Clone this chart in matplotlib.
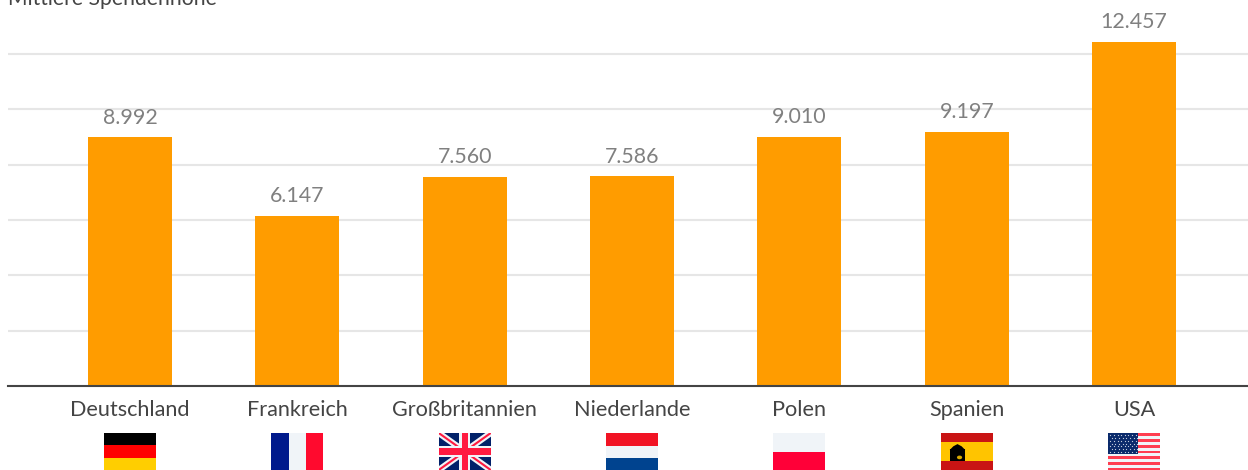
import matplotlib
matplotlib.use("Agg")
import matplotlib.pyplot as plt
from matplotlib.patches import Rectangle, Circle, Polygon

plt.rcParams["font.family"] = ["Lato", "DejaVu Sans"]

countries = ["Deutschland", "Frankreich", "Großbritannien", "Niederlande", "Polen", "Spanien", "USA"]
values = [8992, 6147, 7560, 7586, 9010, 9197, 12457]
value_labels = ["8.992", "6.147", "7.560", "7.586", "9.010", "9.197", "12.457"]
grid_ticks = [2000, 4000, 6000, 8000, 10000, 12000]
flag_codes = ["de", "fr", "gb", "nl", "pl", "es", "us"]

W, H = 1248, 470
ORANGE = "#ff9c00"
WHITE = "#f0f4f8"


def stripes(ax, colors, horizontal=True, sizes=None):
    # simple tricolours, coordinates in a 0-1 box with y pointing down
    sizes = sizes or [1 / len(colors)] * len(colors)
    pos = 0
    for c, s in zip(colors, sizes):
        if horizontal:
            ax.add_patch(Rectangle((0, pos), 1, s, color=c, lw=0))
        else:
            ax.add_patch(Rectangle((pos, 0), s, 1, color=c, lw=0))
        pos += s


def draw_flag(ax, code):
    if code == "de":
        stripes(ax, ["#000000", "#ff0000", "#ffce00"])
    elif code == "fr":
        stripes(ax, ["#001a8c", WHITE, "#ff0a2e"], horizontal=False, sizes=[0.34, 0.32, 0.34])
    elif code == "nl":
        stripes(ax, ["#f11324", WHITE, "#00438f"], sizes=[0.35, 0.33, 0.32])
    elif code == "pl":
        stripes(ax, [WHITE, "#ff0038"], sizes=[0.51, 0.49])
    elif code == "es":
        stripes(ax, ["#c91414", "#ffc400", "#c91414"], sizes=[0.25, 0.52, 0.23])
        ax.add_patch(Rectangle((0.17, 0.42), 0.30, 0.34, color="#000000", lw=0))
        ax.add_patch(Polygon([[0.17, 0.46], [0.24, 0.36], [0.32, 0.30], [0.40, 0.36], [0.47, 0.46]],
                             color="#000000", lw=0))
        ax.add_patch(Circle((0.36, 0.66), 0.05, color="#d8a800", lw=0))
    elif code == "gb":
        ax.add_patch(Rectangle((0, 0), 1, 1, color="#012169", lw=0, zorder=1))
        ax.plot([0, 1], [0, 1], color=WHITE, lw=4.5, solid_capstyle="butt", zorder=2)
        ax.plot([0, 1], [1, 0], color=WHITE, lw=4.5, solid_capstyle="butt", zorder=2)
        ax.plot([0, 1], [0, 1], color="#ff1a40", lw=1.5, solid_capstyle="butt", zorder=3)
        ax.plot([0, 1], [1, 0], color="#ff1a40", lw=1.5, solid_capstyle="butt", zorder=3)
        ax.add_patch(Rectangle((0.39, 0), 0.22, 1, color=WHITE, lw=0, zorder=4))
        ax.add_patch(Rectangle((0, 0.34), 1, 0.32, color=WHITE, lw=0, zorder=4))
        ax.add_patch(Rectangle((0.44, 0), 0.12, 1, color="#ff1a40", lw=0, zorder=5))
        ax.add_patch(Rectangle((0, 0.41), 1, 0.18, color="#ff1a40", lw=0, zorder=5))
    elif code == "us":
        ax.add_patch(Rectangle((0, 0), 1, 1, color=WHITE, lw=0))
        for i in range(7):
            ax.add_patch(Rectangle((0, i * 0.158), 1, 0.079, color="#ff3d50", lw=0))
        ax.add_patch(Rectangle((0, 0), 0.575, 0.57, color="#0a2a6b", lw=0))
        for row in range(7):
            for col in range(8):
                ax.plot(0.04 + col * 0.07 + (row % 2) * 0.03, 0.05 + row * 0.078, "o",
                        color="#c8d0e0", ms=0.9, mew=0)
    ax.set_xlim(0, 1)
    ax.set_ylim(1, 0)
    ax.axis("off")


fig = plt.figure(figsize=(W / 100, H / 100), dpi=100, facecolor="white")
ax = fig.add_axes([8 / W, (H - 386) / H, 1240 / W, 386 / H])

positions = list(range(len(countries)))
ax.bar(positions, values, width=0.502, color=ORANGE, zorder=3)
ax.set_xlim(-0.729, 6.68)
ax.set_ylim(0, 13960)

ax.set_yticks(grid_ticks)
ax.tick_params(axis="y", length=0, labelleft=False)
ax.grid(axis="y", color="#e6e6e6", lw=1.5, zorder=0)
ax.set_axisbelow(True)
for side in ["top", "left", "right"]:
    ax.spines[side].set_visible(False)
ax.spines["bottom"].set_color("#444444")
ax.spines["bottom"].set_linewidth(1.5)
ax.spines["bottom"].set_zorder(4)

ax.set_xticks(positions)
ax.set_xticklabels(countries, fontsize=15.6, color="#444444")
ax.tick_params(axis="x", length=0, pad=10.3)

for x, v, label in zip(positions, values, value_labels):
    ax.annotate(label, (x, v), xytext=(0, 7), textcoords="offset points", ha="center",
                va="bottom", fontsize=15.4, color="#808080", zorder=5)

fig.text(8 / W, 1 - 5 / H, "Mittlere Spendenhöhe", fontsize=15.25, color="#444444", ha="left", va="baseline")

# flags sit under the tick labels, one small axes each
for x, code in zip(positions, flag_codes):
    px = ax.transData.transform((x, 0))[0]
    fax = fig.add_axes([(px - 26) / W, 0, 52 / W, 37 / H])
    draw_flag(fax, code)

fig.savefig("out.png", dpi=100, facecolor="white")
